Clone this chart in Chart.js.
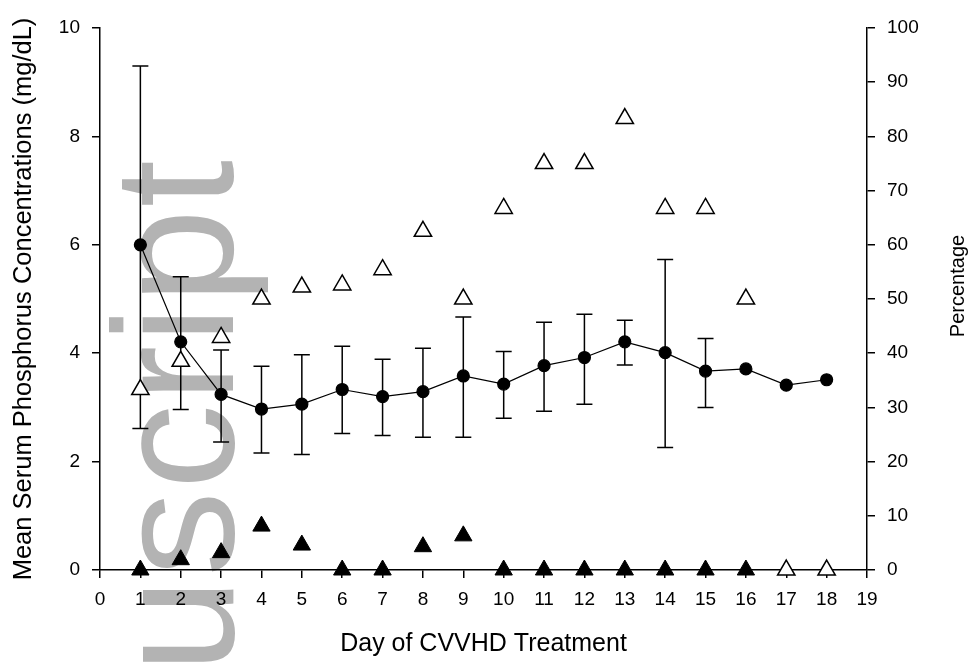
<!DOCTYPE html>
<html>
<head>
<meta charset="utf-8">
<script src="https://cdn.jsdelivr.net/npm/chart.js@4.4.1/dist/chart.umd.min.js"></script>
<style>
  html, body { margin: 0; padding: 0; background: #fff; }
  #wrap { width: 974px; height: 663px; position: relative; }
</style>
</head>
<body>
<div id="wrap"><canvas id="chart"></canvas></div>
<script>
const days = [1, 2, 3, 4, 5, 6, 7, 8, 9, 10, 11, 12, 13, 14, 15, 16, 17, 18];
// mean serum phosphorus (mg/dL) and its error bar ends
const meanPhos = [6.0, 4.21, 3.24, 2.97, 3.06, 3.33, 3.2, 3.29, 3.58, 3.43, 3.77, 3.92, 4.21, 4.01, 3.67, 3.71, 3.41, 3.51];
const errHigh = [9.3, 5.41, 4.06, 3.76, 3.97, 4.13, 3.89, 4.09, 4.67, 4.03, 4.57, 4.72, 4.61, 5.73, 4.27, null, null, null];
const errLow = [2.61, 2.96, 2.36, 2.16, 2.13, 2.52, 2.48, 2.45, 2.45, 2.8, 2.93, 3.06, 3.78, 2.26, 3.0, null, null, null];
// percentages (right axis)
const pctOpen = [33.3, 38.5, 42.9, 50, 52.2, 52.6, 55.4, 62.5, 50, 66.7, 75, 75, 83.3, 66.7, 66.7, 50, 0, 0];
const pctFilled = [0, 1.9, 3.2, 8.1, 4.6, 0, 0, 4.3, 6.3, 0, 0, 0, 0, 0, 0, 0, null, null];

const leftTicks = [0, 2, 4, 6, 8, 10];
const rightTicks = [0, 10, 20, 30, 40, 50, 60, 70, 80, 90, 100];

const FONT = '"Liberation Sans", Arial, sans-serif';

const toPoints = (vals) => days.map((d, i) => ({ x: d, y: vals[i] }));

const watermark = {
  id: 'watermark',
  beforeDraw(chart) {
    const ctx = chart.ctx;
    ctx.save();
    ctx.fillStyle = '#b3b3b3';
    ctx.font = '170px ' + FONT;
    ctx.letterSpacing = '2px';
    ctx.translate(233, 158);
    ctx.rotate(-Math.PI / 2);
    ctx.textAlign = 'right';
    ctx.textBaseline = 'alphabetic';
    ctx.fillText('Manuscript', 0, 0);
    ctx.restore();
  }
};

const errorBars = {
  id: 'errorBars',
  beforeDatasetsDraw(chart) {
    const { ctx, scales: { x, y } } = chart;
    ctx.save();
    ctx.strokeStyle = '#000';
    ctx.lineWidth = 1.5;
    days.forEach((d, i) => {
      if (errHigh[i] == null) return;
      const px = x.getPixelForValue(d);
      const top = y.getPixelForValue(errHigh[i]);
      const bot = y.getPixelForValue(errLow[i]);
      ctx.beginPath();
      ctx.moveTo(px, top); ctx.lineTo(px, bot);
      ctx.moveTo(px - 8, top); ctx.lineTo(px + 8, top);
      ctx.moveTo(px - 8, bot); ctx.lineTo(px + 8, bot);
      ctx.stroke();
    });
    ctx.restore();
  }
};

// right axis title reads bottom-to-top, which Chart.js won't do for a right scale
const rightTitle = {
  id: 'rightTitle',
  afterDraw(chart) {
    const ctx = chart.ctx;
    const area = chart.chartArea;
    ctx.save();
    ctx.fillStyle = '#000';
    ctx.font = '20px ' + FONT;
    ctx.translate(958, (area.top + area.bottom) / 2 - 13);
    ctx.rotate(-Math.PI / 2);
    ctx.textAlign = 'center';
    ctx.textBaseline = 'middle';
    ctx.fillText('Percentage', 0, 0);
    ctx.restore();
  }
};

new Chart(document.getElementById('chart'), {
  type: 'line',
  data: {
    datasets: [{
      label: 'Mean phosphorus',
      data: toPoints(meanPhos),
      yAxisID: 'y',
      borderColor: '#000',
      borderWidth: 1.2,
      pointRadius: 6,
      pointBackgroundColor: '#000',
      pointBorderColor: '#000',
      tension: 0,
      clip: false
    }, {
      label: 'Percentage (open)',
      data: toPoints(pctOpen),
      yAxisID: 'y2',
      showLine: false,
      pointStyle: 'triangle',
      pointRadius: 10,
      pointBackgroundColor: '#fff',
      pointBorderColor: '#000',
      pointBorderWidth: 1.5,
      clip: false
    }, {
      label: 'Percentage (filled)',
      data: toPoints(pctFilled),
      yAxisID: 'y2',
      showLine: false,
      pointStyle: 'triangle',
      pointRadius: 10,
      pointBackgroundColor: '#000',
      pointBorderColor: '#000',
      pointBorderWidth: 1,
      clip: false
    }]
  },
  options: {
    responsive: true,
    maintainAspectRatio: false,
    animation: false,
    layout: { padding: { top: 28, left: 0, right: 0, bottom: 0 } },
    plugins: {
      legend: { display: false },
      tooltip: { enabled: false }
    },
    scales: {
      x: {
        type: 'linear',
        min: 0,
        max: 19,
        afterFit(s) { s.height = 93; },
        afterBuildTicks(s) { s.ticks = days.concat([0, 19]).sort((a, b) => a - b).map(v => ({ value: v })); },
        ticks: { font: { family: FONT, size: 19 }, color: '#000', padding: 10, autoSkip: false, maxRotation: 0 },
        grid: { drawOnChartArea: false, tickLength: 8, color: '#000', lineWidth: 1.5 },
        border: { color: '#000', width: 1.5 },
        title: {
          display: true,
          text: 'Day of CVVHD Treatment',
          font: { family: FONT, size: 25 },
          color: '#000',
          padding: { top: 0, bottom: 4 }
        }
      },
      y: {
        position: 'left',
        min: 0,
        max: 10,
        afterFit(s) { s.width = 100; },
        afterBuildTicks(s) { s.ticks = leftTicks.map(v => ({ value: v })); },
        ticks: { font: { family: FONT, size: 19 }, color: '#000', padding: 12 },
        grid: { drawOnChartArea: false, tickLength: 8, color: '#000', lineWidth: 1.5 },
        border: { color: '#000', width: 1.5 },
        title: {
          display: true,
          text: 'Mean Serum Phosphorus Concentrations (mg/dL)',
          font: { family: FONT, size: 25.5 },
          color: '#000',
          padding: { top: 9, bottom: 0 }
        }
      },
      y2: {
        position: 'right',
        min: 0,
        max: 100,
        afterFit(s) { s.width = 107; },
        afterBuildTicks(s) { s.ticks = rightTicks.map(v => ({ value: v })); },
        ticks: { font: { family: FONT, size: 19 }, color: '#000', padding: 12 },
        grid: { drawOnChartArea: false, tickLength: 8, color: '#000', lineWidth: 1.5 },
        border: { color: '#000', width: 1.5 }
      }
    }
  },
  plugins: [watermark, errorBars, rightTitle]
});
</script>
</body>
</html>
